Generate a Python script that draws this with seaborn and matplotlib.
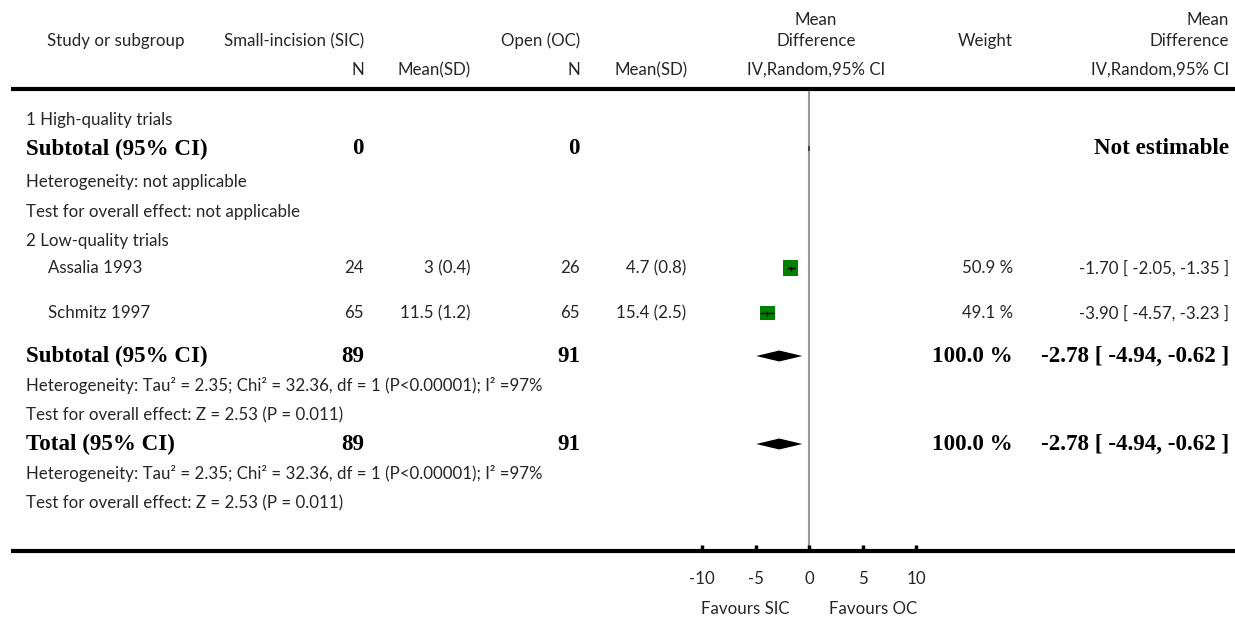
import matplotlib
matplotlib.use("Agg")
import matplotlib.pyplot as plt
import seaborn as sns
import pandas as pd
from matplotlib.textpath import TextPath
from matplotlib.font_manager import FontProperties

sns.set_theme(style="white")
plt.rcParams['font.family'] = ['Lato', 'DejaVu Sans']

# ---------------- data ----------------
studies = ["Assalia 1993", "Schmitz 1997"]
sic_n = [24, 65]
sic_mean = [3, 11.5]
sic_sd = [0.4, 1.2]
oc_n = [26, 65]
oc_mean = [4.7, 15.4]
oc_sd = [0.8, 2.5]
md = [-1.70, -3.90]
ci_lo = [-2.05, -4.57]
ci_hi = [-1.35, -3.23]
weights = [50.9, 49.1]

hq_n = [0, 0]
sub_n = [89, 91]
pooled = [-2.78, -4.94, -0.62]
tau2 = 2.35
chi2 = 32.36
i2 = 97
z = 2.53
p = 0.011
ticks = [-10, -5, 0, 5, 10]
tick_labels = ["-10", "-5", "0", "5", "10"]

# ---------------- layout ----------------
W, H = 1235, 617
fig = plt.figure(figsize=(W / 100, H / 100), dpi=100)
ax_t = fig.add_axes([0, 0, 1, 1])
ax_t.set_xlim(0, W)
ax_t.set_ylim(H, 0)
ax_t.axis("off")

# forest axes: x in data units, y in pixel rows
zero_px, px_per_unit = 809, 10.7
fx0, fx1 = 650, 975
ax_f = fig.add_axes([fx0 / W, 0, (fx1 - fx0) / W, 1])
ax_f.patch.set_alpha(0)

REG = "Lato"
SERIF = "Liberation Serif"
TXT = "#262626"


def fit_size(s, family, weight, target_px):
    fp = FontProperties(family=family, weight=weight, size=10)
    w = TextPath((0, 0), s, prop=fp).get_extents().width  # points at size 10
    return 10 * target_px / (w * 100 / 72)


fs = fit_size("Heterogeneity: not applicable", REG, "normal", 218)
fb = fit_size("Not estimable", SERIF, "bold", 134)


def t(x, y, s, ha="left", bold=False, size=None):
    if bold:
        ax_t.text(x, y, s, ha=ha, va="center", family=SERIF, weight="bold",
                  fontsize=size or fb, color="black")
    else:
        ax_t.text(x, y, s, ha=ha, va="center", family=REG,
                  fontsize=size or fs, color=TXT)


# columns
c_lab, c_study = 26, 48
c_n1, c_m1, c_n2, c_m2 = 364, 471, 580, 686
c_plot, c_w, c_ci = 816, 1013, 1229

# header
t(116, 41, "Study or subgroup", ha="center")
t(c_n1, 41, "Small-incision (SIC)", ha="right")
t(c_n2, 41, "Open (OC)", ha="right")
t(c_plot, 20, "Mean", ha="center")
t(c_plot, 41, "Difference", ha="center")
t(c_w, 41, "Weight", ha="right")
t(c_ci, 20, "Mean", ha="right")
t(c_ci, 41, "Difference", ha="right")
t(c_n1, 70, "N", ha="right")
t(c_m1, 70, "Mean(SD)", ha="right")
t(c_n2, 70, "N", ha="right")
t(c_m2 + 2, 70, "Mean(SD)", ha="right")
t(c_plot, 70, "IV,Random,95% CI", ha="center")
t(c_ci, 70, "IV,Random,95% CI", ha="right")
ax_t.hlines([89, 551], 11, W, color="black", lw=3)

# subgroup 1
t(c_lab, 120, "1 High-quality trials")
t(c_lab, 149, "Subtotal (95% CI)", bold=True)
t(c_n1, 149, f"{hq_n[0]}", ha="right", bold=True)
t(c_n2, 149, f"{hq_n[1]}", ha="right", bold=True)
t(c_ci, 149, "Not estimable", ha="right", bold=True)
t(c_lab, 182, "Heterogeneity: not applicable")
t(c_lab, 212, "Test for overall effect: not applicable")

# subgroup 2
t(c_lab, 241, "2 Low-quality trials")
row_y = [268, 313]
for i, y in enumerate(row_y):
    t(c_study, y, studies[i])
    t(c_n1, y, f"{sic_n[i]}", ha="right")
    t(c_m1, y, f"{sic_mean[i]:g} ({sic_sd[i]})", ha="right")
    t(c_n2, y, f"{oc_n[i]}", ha="right")
    t(c_m2, y, f"{oc_mean[i]:g} ({oc_sd[i]})", ha="right")
    t(c_w, y, f"{weights[i]:.1f} %", ha="right")
    t(c_ci, y, f"{md[i]:.2f} [ {ci_lo[i]:.2f}, {ci_hi[i]:.2f} ]", ha="right")

het = (f"Heterogeneity: Tau\u00b2 = {tau2:.2f}; Chi\u00b2 = {chi2:.2f}, df = 1 "
       f"(P<0.00001); I\u00b2 ={i2}%")
test = f"Test for overall effect: Z = {z:.2f} (P = {p:.3f})"
for ys, label in [((356, 386, 415), "Subtotal (95% CI)"),
                  ((444, 474, 503), "Total (95% CI)")]:
    y0, y1, y2 = ys
    t(c_lab, y0, label, bold=True)
    t(c_n1, y0, f"{sub_n[0]}", ha="right", bold=True)
    t(c_n2, y0, f"{sub_n[1]}", ha="right", bold=True)
    t(c_w, y0, "100.0 %", ha="right", bold=True)
    t(c_ci, y0, f"{pooled[0]:.2f} [ {pooled[1]:.2f}, {pooled[2]:.2f} ]",
      ha="right", bold=True)
    t(c_lab, y1, het)
    t(c_lab, y2, test)

# ---------------- forest plot ----------------
ax_f.vlines(0, 91, 551, color="#9a9a9a", lw=1.5, zorder=1)
ax_f.vlines(0, 146, 151, color="#333333", lw=1.2, zorder=2)

df = pd.DataFrame({"md": md, "y": row_y, "w": weights})
sns.scatterplot(data=df, x="md", y="y", marker="s", s=[117 * w / 50 for w in weights],
                color="#008000", edgecolor="none", ax=ax_f, zorder=3, legend=False)
ax_f.hlines(row_y, ci_lo, ci_hi, color="black", lw=1, zorder=4)
ax_f.vlines(md, [y - 2.5 for y in row_y], [y + 2.5 for y in row_y],
            color="black", lw=1, zorder=4)

for yd in (356, 444):
    ax_f.fill([pooled[1], pooled[0], pooled[2], pooled[0]],
              [yd, yd - 5.5, yd, yd + 5.5], color="black", lw=0, zorder=3)

ax_f.vlines(ticks, 545, 551, color="black", lw=2.5)
for tv, tl in zip(ticks, tick_labels):
    ax_f.text(tv, 579, tl, ha="center", va="center", family=REG,
              fontsize=fs, color=TXT)
ax_f.set_xlim((fx0 - zero_px) / px_per_unit, (fx1 - zero_px) / px_per_unit)
ax_f.set_ylim(H, 0)
ax_f.axis("off")

t(745, 609, "Favours SIC", ha="center")
t(873, 609, "Favours OC", ha="center")

fig.savefig("out.png", dpi=100)
